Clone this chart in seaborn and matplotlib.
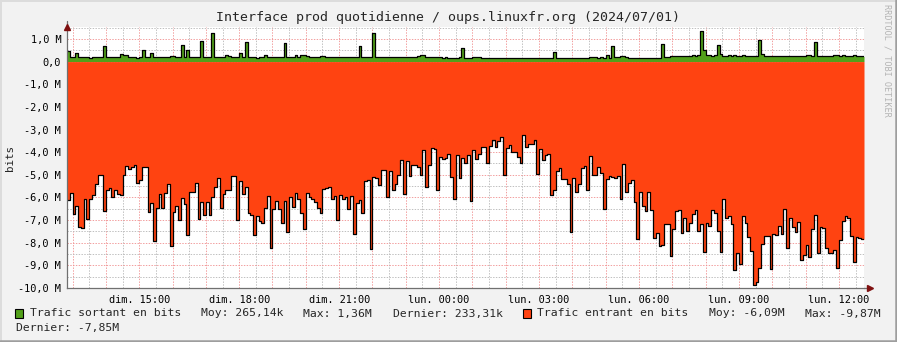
import matplotlib
matplotlib.use("Agg")
import matplotlib.pyplot as plt
import matplotlib.dates as mdates
from matplotlib.ticker import MultipleLocator, FuncFormatter
from matplotlib.patches import Rectangle
from matplotlib.lines import Line2D
import numpy as np
import pandas as pd
import seaborn as sns

# ---------------- data (Mbit/s, 5-minute steps) ----------------
start_time = "2024-06-30 12:50"
step = "5min"

outgoing_M = [
    0.45, 0.20, 0.21, 0.40, 0.22, 0.20, 0.19, 0.20, 0.18, 0.21,
    0.19, 0.20, 0.22, 0.69, 0.20, 0.21, 0.20, 0.21, 0.22, 0.32,
    0.30, 0.28, 0.22, 0.20, 0.21, 0.18, 0.20, 0.51, 0.22, 0.20,
    0.37, 0.22, 0.20, 0.19, 0.20, 0.21, 0.20, 0.25, 0.25, 0.21,
    0.20, 0.74, 0.22, 0.51, 0.22, 0.19, 0.20, 0.21, 0.91, 0.22,
    0.21, 0.20, 1.25, 0.22, 0.20, 0.20, 0.21, 0.30, 0.24, 0.20,
    0.20, 0.21, 0.37, 0.21, 0.85, 0.22, 0.21, 0.20, 0.18, 0.20,
    0.21, 0.28, 0.22, 0.20, 0.19, 0.20, 0.21, 0.20, 0.82, 0.22,
    0.20, 0.21, 0.30, 0.22, 0.30, 0.30, 0.24, 0.22, 0.20, 0.21,
    0.22, 0.26, 0.26, 0.22, 0.20, 0.19, 0.21, 0.20, 0.22, 0.21,
    0.20, 0.21, 0.22, 0.20, 0.21, 0.69, 0.22, 0.20, 0.19, 0.20,
    1.25, 0.22, 0.21, 0.20, 0.22, 0.21, 0.20, 0.21, 0.20, 0.22,
    0.21, 0.20, 0.22, 0.20, 0.21, 0.22, 0.23, 0.28, 0.27, 0.22,
    0.21, 0.20, 0.19, 0.20, 0.21, 0.18, 0.19, 0.17, 0.18, 0.17,
    0.18, 0.19, 0.62, 0.16, 0.15, 0.16, 0.20, 0.21, 0.20, 0.16,
    0.15, 0.16, 0.15, 0.14, 0.16, 0.15, 0.16, 0.15, 0.14, 0.15,
    0.16, 0.15, 0.16, 0.15, 0.14, 0.16, 0.15, 0.16, 0.15, 0.16,
    0.15, 0.16, 0.15, 0.16, 0.17, 0.44, 0.16, 0.15, 0.16, 0.15,
    0.16, 0.15, 0.14, 0.16, 0.15, 0.16, 0.17, 0.16, 0.20, 0.19,
    0.21, 0.18, 0.20, 0.16, 0.29, 0.18, 0.71, 0.20, 0.19, 0.25,
    0.25, 0.19, 0.18, 0.17, 0.16, 0.18, 0.17, 0.16, 0.17, 0.18,
    0.16, 0.17, 0.18, 0.17, 0.78, 0.20, 0.20, 0.25, 0.25, 0.25,
    0.25, 0.25, 0.25, 0.25, 0.25, 0.30, 0.25, 0.27, 1.36, 0.50,
    0.30, 0.27, 0.25, 0.28, 0.74, 0.35, 0.24, 0.26, 0.30, 0.25,
    0.30, 0.25, 0.26, 0.30, 0.25, 0.24, 0.25, 0.26, 0.25, 0.96,
    0.35, 0.26, 0.25, 0.24, 0.25, 0.26, 0.25, 0.24, 0.25, 0.24,
    0.25, 0.24, 0.23, 0.25, 0.24, 0.25, 0.27, 0.28, 0.26, 0.85,
    0.26, 0.25, 0.24, 0.25, 0.26, 0.25, 0.27, 0.27, 0.26, 0.27,
    0.26, 0.24, 0.25, 0.27, 0.24, 0.25, 0.233,
]

incoming_M = [
    -6.10, -5.80, -6.73, -6.36, -7.30, -7.35, -6.05, -6.95, -6.05, -5.89,
    -5.40, -5.00, -5.00, -6.59, -5.69, -5.58, -5.97, -5.66, -5.83, -5.91,
    -4.99, -4.62, -4.76, -4.65, -4.56, -5.35, -5.21, -4.66, -4.65, -6.64,
    -6.24, -7.92, -6.45, -5.84, -6.45, -5.81, -5.40, -8.13, -6.64, -6.37,
    -6.98, -6.02, -6.28, -7.64, -5.75, -5.75, -5.37, -6.96, -6.19, -6.76,
    -6.22, -6.79, -5.97, -5.56, -5.16, -6.45, -5.84, -5.66, -5.68, -5.06,
    -5.06, -6.98, -5.28, -5.84, -5.55, -6.68, -6.76, -7.68, -6.83, -7.02,
    -7.12,
    -6.47, -5.94, -8.23, -6.50, -6.16, -6.50, -7.15, -6.16, -7.52, -6.00,
    -6.42, -5.80, -6.06, -6.68, -7.39, -5.81, -5.96, -6.05, -6.22, -6.47,
    -6.68, -5.62, -5.58, -5.53, -6.09, -5.94, -6.98, -5.90, -6.09, -5.99,
    -6.50, -5.94, -7.60, -6.24, -6.12, -6.68, -5.28, -5.24, -8.27, -5.09,
    -5.13, -5.43, -4.78, -4.81, -5.97, -4.84, -5.69, -5.40, -4.99, -4.34,
    -5.87, -4.41, -5.05, -4.56, -4.56, -4.66, -5.02, -3.89, -5.52, -4.56,
    -3.80, -3.88, -5.69, -4.22, -4.29, -4.28, -4.06, -5.09, -6.05, -4.13,
    -5.16, -4.25,
    -4.47, -4.13, -6.15, -3.89, -4.32, -4.07, -3.78, -3.78, -4.50, -3.73,
    -3.48, -3.78, -3.50, -3.33, -5.03, -3.83, -3.69, -3.98, -4.00, -4.20,
    -4.47, -3.23, -3.76, -3.63, -3.63, -3.48, -4.96, -3.85, -4.35, -4.11,
    -4.08, -5.91, -5.69, -4.84, -4.71, -5.18, -5.18, -5.42, -7.51, -5.16,
    -5.75, -5.40, -4.69, -4.62, -5.65, -4.17, -5.00, -5.00, -4.65, -4.91,
    -6.50, -5.18, -5.06, -5.09, -5.15, -5.06, -6.05, -4.53, -5.77, -5.38,
    -5.21, -6.19, -7.83, -5.75, -6.40, -6.58, -5.75, -6.55, -7.79, -7.58,
    -8.13, -8.08,
    -7.17, -7.17, -8.57, -7.39, -6.61, -6.57, -7.58, -6.92, -7.49, -7.12,
    -6.73, -6.57, -7.49, -7.17, -8.42, -7.15, -7.24, -6.57, -6.68, -7.49,
    -8.41, -6.08, -6.90, -6.83, -7.17, -9.20, -8.45, -8.94, -6.83, -7.12,
    -7.76, -8.38, -9.85, -9.72, -9.11, -8.04, -7.71, -7.71, -9.14, -7.61,
    -7.68, -7.27, -7.60, -6.50, -8.23, -6.92, -7.30, -7.52, -7.08, -8.75,
    -8.53, -8.08, -8.63, -7.39, -6.76, -8.44, -7.30, -7.37, -8.24, -8.45,
    -8.45, -8.30, -9.11, -7.90, -7.03, -6.81, -6.90, -7.72, -8.83, -7.74,
    -7.78, -7.85,
]

title = "Interface prod quotidienne / oups.linuxfr.org (2024/07/01)"
legend_out = ["Trafic sortant en bits", "Moy: 265,14k", "Max: 1,36M", "Dernier: 233,31k"]
legend_in = ["Trafic entrant en bits", "Moy: -6,09M", "Max: -9,87M", "Dernier: -7,85M"]
day_names = ["lun.", "mar.", "mer.", "jeu.", "ven.", "sam.", "dim."]

GREEN = "#52A01A"
RED = "#FF4311"

# ---------------- figure ----------------
sns.set_style("white")
plt.rcParams["font.family"] = ["DejaVu Sans Mono"]

W, H = 897, 342
fig = plt.figure(figsize=(W / 100, H / 100), dpi=100, facecolor="#F2F2F2")
ax = fig.add_axes([67 / W, 1 - 288 / H, (864 - 67) / W, (288 - 26.5) / H])
ax.set_facecolor("white")

n = len(incoming_M)
times = pd.date_range(start_time, periods=n + 1, freq=step)
df = pd.DataFrame({
    "time": times,
    "out": outgoing_M + [outgoing_M[-1]],
    "inc": incoming_M + [incoming_M[-1]],
})

ax.fill_between(df["time"], 0, df["out"], step="post", color=GREEN, lw=0, zorder=2)
ax.fill_between(df["time"], 0, df["inc"], step="post", color=RED, lw=0, zorder=2)
sns.lineplot(data=df, x="time", y="out", drawstyle="steps-post", color="black",
             lw=0.9, ax=ax, estimator=None, zorder=3)
sns.lineplot(data=df, x="time", y="inc", drawstyle="steps-post", color="black",
             lw=0.9, ax=ax, estimator=None, zorder=3)

ax.set_xlim(times[0], times[-1])
ax.set_ylim(-10, 1.55)
ax.set_xlabel("")
ax.set_ylabel("")

# ticks / grid
ax.yaxis.set_major_locator(MultipleLocator(1.0))
ax.yaxis.set_minor_locator(MultipleLocator(0.5))


def yfmt(v, pos):
    if abs(v) < 1e-9:
        return "0,0"
    return f"{v:.1f} M".replace(".", ",")


ax.yaxis.set_major_formatter(FuncFormatter(yfmt))

ax.xaxis.set_major_locator(mdates.HourLocator(interval=1))
ax.xaxis.set_minor_locator(mdates.MinuteLocator(byminute=[30]))


def xfmt(v, pos):
    d = mdates.num2date(v)
    if d.hour % 3 == 0 and d.minute == 0:
        return f"{day_names[d.weekday()]} {d:%H:%M}"
    return ""


ax.xaxis.set_major_formatter(FuncFormatter(xfmt))

dot = (0, (1.4, 1.4))
ax.set_axisbelow(True)
ax.grid(which="minor", color="#BABABA", linestyle=dot, lw=0.72, alpha=0.9)
ax.grid(which="major", color="#F09090", linestyle=dot, lw=0.72, alpha=0.85)

ax.tick_params(axis="both", which="both", direction="out", colors="#707070",
               labelcolor="black", labelsize=7.4, length=2.2, width=0.7, pad=2)
ax.tick_params(axis="x", which="major", pad=3)

for s in ["top", "right"]:
    ax.spines[s].set_visible(False)
for s in ["left", "bottom"]:
    ax.spines[s].set_color("#707070")
    ax.spines[s].set_linewidth(0.9)
    ax.spines[s].set_zorder(5)

# axis arrows
ax.plot([0], [1.0], marker="^", color="#7F1010", markersize=5, transform=ax.transAxes,
        clip_on=False, zorder=6)
ax.plot([0, 0], [1.0, 1.02], color="#707070", lw=0.9, transform=ax.transAxes, clip_on=False)
ax.plot([1.0, 1.008], [0, 0], color="#707070", lw=0.9, transform=ax.transAxes, clip_on=False)
ax.plot([1.008], [0], marker=">", color="#7F1010", markersize=5, transform=ax.transAxes,
        clip_on=False, zorder=6)

# texts
fig.text(448 / W, 1 - 17 / H, title, ha="center", va="center", fontsize=9.57)
fig.text(10 / W, 1 - 158 / H, "bits", rotation=90, ha="center", va="center", fontsize=7.8)
fig.text(887 / W, 1 - 4 / H, "RRDTOOL / TOBI OETIKER", rotation=270, ha="center", va="top",
         fontsize=6.1, color="#B4B4B4")

# legend
fs = 8.2
y1 = 1 - 313.5 / H
y2 = 1 - 328.5 / H
fig.add_artist(Rectangle((15 / W, 1 - 318 / H), 8 / W, 9 / H, transform=fig.transFigure,
                         facecolor=GREEN, edgecolor="black", lw=0.8))
fig.text(30 / W, y1, legend_out[0], va="center", fontsize=fs)
fig.text(201 / W, y1, legend_out[1], va="center", fontsize=fs)
fig.text(303 / W, y1, legend_out[2], va="center", fontsize=fs)
fig.text(393 / W, y1, legend_out[3], va="center", fontsize=fs)
fig.add_artist(Rectangle((523 / W, 1 - 318 / H), 8 / W, 9 / H, transform=fig.transFigure,
                         facecolor=RED, edgecolor="black", lw=0.8))
fig.text(537 / W, y1, legend_in[0], va="center", fontsize=fs)
fig.text(709 / W, y1, legend_in[1], va="center", fontsize=fs)
fig.text(805 / W, y1, legend_in[2], va="center", fontsize=fs)
fig.text(16 / W, y2, legend_in[3], va="center", fontsize=fs)

# 3D frame
fig.add_artist(Line2D([0, 1], [1 - 0.5 / H] * 2, transform=fig.transFigure, color="#DCDCDC", lw=1.4))
fig.add_artist(Line2D([0.5 / W] * 2, [0, 1], transform=fig.transFigure, color="#DCDCDC", lw=1.4))
fig.add_artist(Line2D([0, 1], [1.2 / H] * 2, transform=fig.transFigure, color="#9E9E9E", lw=1.8))
fig.add_artist(Line2D([1 - 1.2 / W] * 2, [0, 1], transform=fig.transFigure, color="#9E9E9E", lw=1.8))

fig.savefig("out.png", dpi=100, facecolor=fig.get_facecolor())
